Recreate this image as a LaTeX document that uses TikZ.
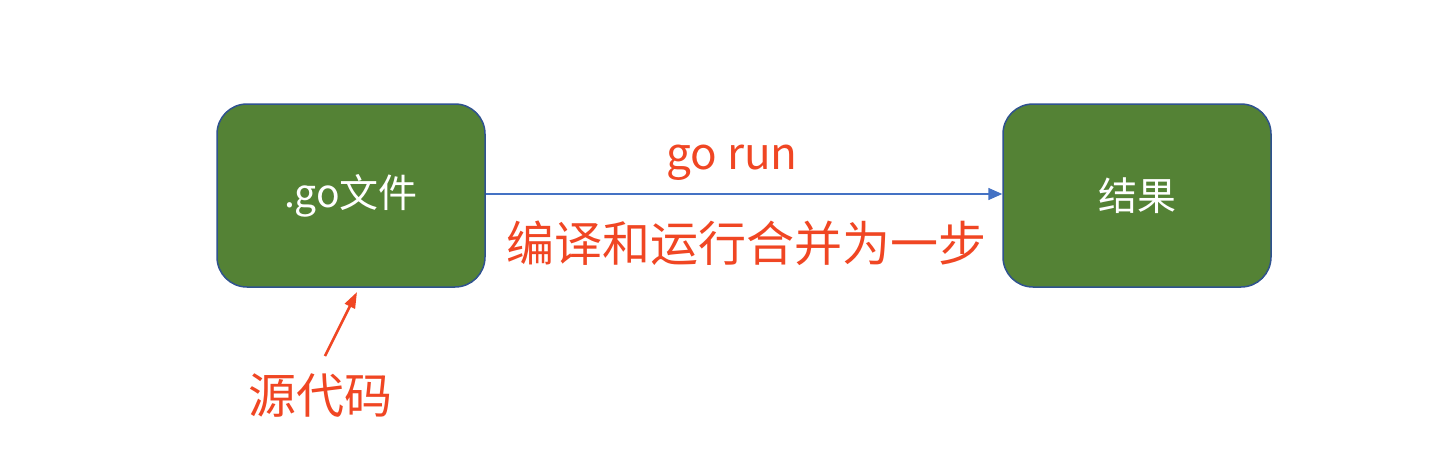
\documentclass[tikz,border=0pt]{standalone}
\usepackage{fontspec}
\setmainfont{Noto Sans CJK SC}
\usetikzlibrary{arrows.meta}
\definecolor{boxgreen}{RGB}{84,130,53}
\definecolor{boxborder}{RGB}{47,82,143}
\definecolor{arrowblue}{RGB}{68,114,196}
\definecolor{labelred}{RGB}{240,70,35}
\begin{document}
\begin{tikzpicture}[x=1pt,y=-1pt,
  box/.style={draw=boxborder,line width=1.5pt,fill=boxgreen,rounded corners=30pt,
    minimum width=268pt,minimum height=183pt,text=white,font=\fontsize{39}{43}\selectfont,inner sep=0pt},
  redlabel/.style={text=labelred,inner sep=0pt}]
\useasboundingbox[fill=white] (0,0) rectangle (1446,472);
\node[box] (src) at (351,195.5) {.go文件};
\node[box] (res) at (1137,195.5) {结果};
\draw[arrowblue,line width=1.5pt,-{Triangle[length=14pt,width=12pt]}] (src.east |- 0,194) -- (res.west |- 0,194);
\node[redlabel,font=\fontsize{44}{48}\selectfont] (gorun) at (732,163) {go run};
\node[redlabel,font=\fontsize{48}{52}\selectfont] (desc) at (746,243) {编译和运行合并为一步};
\node[redlabel,font=\fontsize{48}{52}\selectfont] (srclabel) at (320,396) {源代码};
\coordinate (tip) at (357,292);
\draw[labelred,line width=2.5pt,-{Triangle[length=16pt,width=11pt]}] (325,356) -- (tip);
\end{tikzpicture}
\end{document}
